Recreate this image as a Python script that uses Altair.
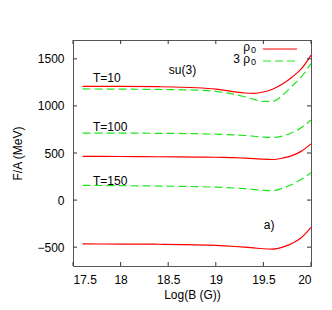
import altair as alt
import pandas as pd

FONT = "Liberation Sans"

logB = [17.6, 18.0, 18.4, 18.8, 19.0, 19.1, 19.2, 19.3, 19.4, 19.5, 19.6, 19.7, 19.8, 19.9, 20.0]

red_T10 = [1208, 1207, 1204, 1193, 1178, 1165, 1150, 1137, 1133, 1148, 1180, 1233, 1305, 1395, 1540]
green_T10 = [1180, 1178, 1175, 1168, 1155, 1140, 1122, 1097, 1070, 1048, 1048, 1112, 1210, 1310, 1452]
green_T100 = [712, 711, 709, 705, 700, 696, 692, 686, 678, 668, 665, 680, 715, 770, 850]
red_T100 = [465, 463, 460, 457, 455, 453, 450, 445, 440, 434, 431, 445, 472, 520, 597]
green_T150 = [157, 153, 149, 143, 137, 133, 128, 121, 112, 103, 100, 125, 165, 222, 290]
red_T150 = [-466, -467, -469, -475, -482, -487, -493, -500, -508, -517, -520, -500, -462, -398, -290]

series = [
    ("r10", "rho0", red_T10),
    ("g10", "3rho0", green_T10),
    ("g100", "3rho0", green_T100),
    ("r100", "rho0", red_T100),
    ("g150", "3rho0", green_T150),
    ("r150", "rho0", red_T150),
]

rows = []
for sid, dens, vals in series:
    for x, y in zip(logB, vals):
        rows.append({"id": sid, "dens": dens, "x": x, "y": y})
df = pd.DataFrame(rows)

x_ticks = [17.5, 18.0, 18.5, 19.0, 19.5, 20.0]
y_ticks = [-500, 0, 500, 1000, 1500]

ann_text = ["T=10", "su(3)", "T=100", "T=150", "a)"]
ann_x = [17.71, 18.65, 17.71, 17.71, 19.56]
ann_y = [1296, 1381, 778, 202, -265]
ann_align = ["left", "center", "left", "left", "center"]
ann = pd.DataFrame({"t": ann_text, "x": ann_x, "y": ann_y, "al": ann_align})

xs = alt.Scale(domain=[17.5, 20], nice=False, zero=False)
ys = alt.Scale(domain=[-700, 1700], nice=False, zero=False)

xaxis = alt.Axis(values=x_ticks, format="~g", ticks=False, domain=False, grid=False,
                 labelPadding=8, labelFontSize=12, labelFont=FONT, labelColor="black",
                 title="Log(B (G))", titleFont=FONT, titleFontSize=12, titleFontWeight="normal",
                 titlePadding=4, titleColor="black")
yaxis = alt.Axis(values=y_ticks, format="d", ticks=False, domain=False, grid=False,
                 labelPadding=9, labelFontSize=12, labelFont=FONT, labelColor="black",
                 title="F/A (MeV)", titleFont=FONT, titleFontSize=12, titleFontWeight="normal",
                 titlePadding=12, titleColor="black")

base = alt.Chart(df)

red = base.transform_filter(alt.datum.dens == "rho0").mark_line(
    color="#ff0000", strokeWidth=1.2, interpolate="monotone"
).encode(
    x=alt.X("x:Q", scale=xs, axis=xaxis),
    y=alt.Y("y:Q", scale=ys, axis=yaxis),
    detail="id:N",
)
green = base.transform_filter(alt.datum.dens == "3rho0").mark_line(
    color="#1ee61e", strokeWidth=1.2, strokeDash=[8, 4], interpolate="monotone"
).encode(
    x=alt.X("x:Q", scale=xs),
    y=alt.Y("y:Q", scale=ys),
    detail="id:N",
)

xt = pd.DataFrame({"v": x_ticks})
yt = pd.DataFrame({"v": y_ticks})
tick_col = "#333333"
tb = alt.Chart(xt).mark_rule(color=tick_col, strokeWidth=1).encode(
    x=alt.X("v:Q", scale=xs), y=alt.value(226), y2=alt.value(222))
tt = alt.Chart(xt).mark_rule(color=tick_col, strokeWidth=1).encode(
    x=alt.X("v:Q", scale=xs), y=alt.value(0), y2=alt.value(4))
tl = alt.Chart(yt).mark_rule(color=tick_col, strokeWidth=1).encode(
    y=alt.Y("v:Q", scale=ys), x=alt.value(0), x2=alt.value(4))
tr = alt.Chart(yt).mark_rule(color=tick_col, strokeWidth=1).encode(
    y=alt.Y("v:Q", scale=ys), x=alt.value(238), x2=alt.value(234))

texts_left = alt.Chart(ann[ann.al == "left"]).mark_text(
    font=FONT, fontSize=12, color="black", baseline="middle", align="left").encode(
    x=alt.X("x:Q", scale=xs), y=alt.Y("y:Q", scale=ys), text="t:N")
texts_center = alt.Chart(ann[ann.al == "center"]).mark_text(
    font=FONT, fontSize=12, color="black", baseline="middle", align="center").encode(
    x=alt.X("x:Q", scale=xs), y=alt.Y("y:Q", scale=ys), text="t:N")

# legend: main text, subscript, sample line
leg_main = ["ρ", "3 ρ"]
leg_sub = ["0", "0"]
leg = pd.DataFrame({"t": leg_main, "s": leg_sub})
r1 = leg.iloc[[0]]
r2 = leg.iloc[[1]]
leg1_t = alt.Chart(r1).mark_text(font=FONT, fontSize=12, align="right", baseline="alphabetic").encode(
    x=alt.value(177), y=alt.value(11), text="t:N")
leg1_s = alt.Chart(r1).mark_text(font=FONT, fontSize=9, align="right", baseline="alphabetic").encode(
    x=alt.value(183), y=alt.value(13), text="s:N")
leg2_t = alt.Chart(r2).mark_text(font=FONT, fontSize=12, align="right", baseline="alphabetic").encode(
    x=alt.value(177), y=alt.value(23), text="t:N")
leg2_s = alt.Chart(r2).mark_text(font=FONT, fontSize=9, align="right", baseline="alphabetic").encode(
    x=alt.value(183), y=alt.value(25), text="s:N")
leg1_l = alt.Chart(r1).mark_rule(color="#ff0000", strokeWidth=1.2).encode(
    x=alt.value(190), x2=alt.value(224), y=alt.value(9))
leg2_l = alt.Chart(r2).mark_rule(color="#1ee61e", strokeWidth=1.2, strokeDash=[8, 4]).encode(
    x=alt.value(190), x2=alt.value(224), y=alt.value(21))

chart = alt.layer(
    red, green, tb, tt, tl, tr, texts_left, texts_center,
    leg1_t, leg1_s, leg2_t, leg2_s, leg1_l, leg2_l
).properties(
    width=238, height=226,
    autosize=alt.AutoSizeParams(type="none"),
    padding={"left": 65, "top": 32, "right": 13, "bottom": 36},
).configure_view(stroke="#555555", strokeWidth=1)

chart.save("out.html", embed_options={"renderer": "svg", "actions": False})
